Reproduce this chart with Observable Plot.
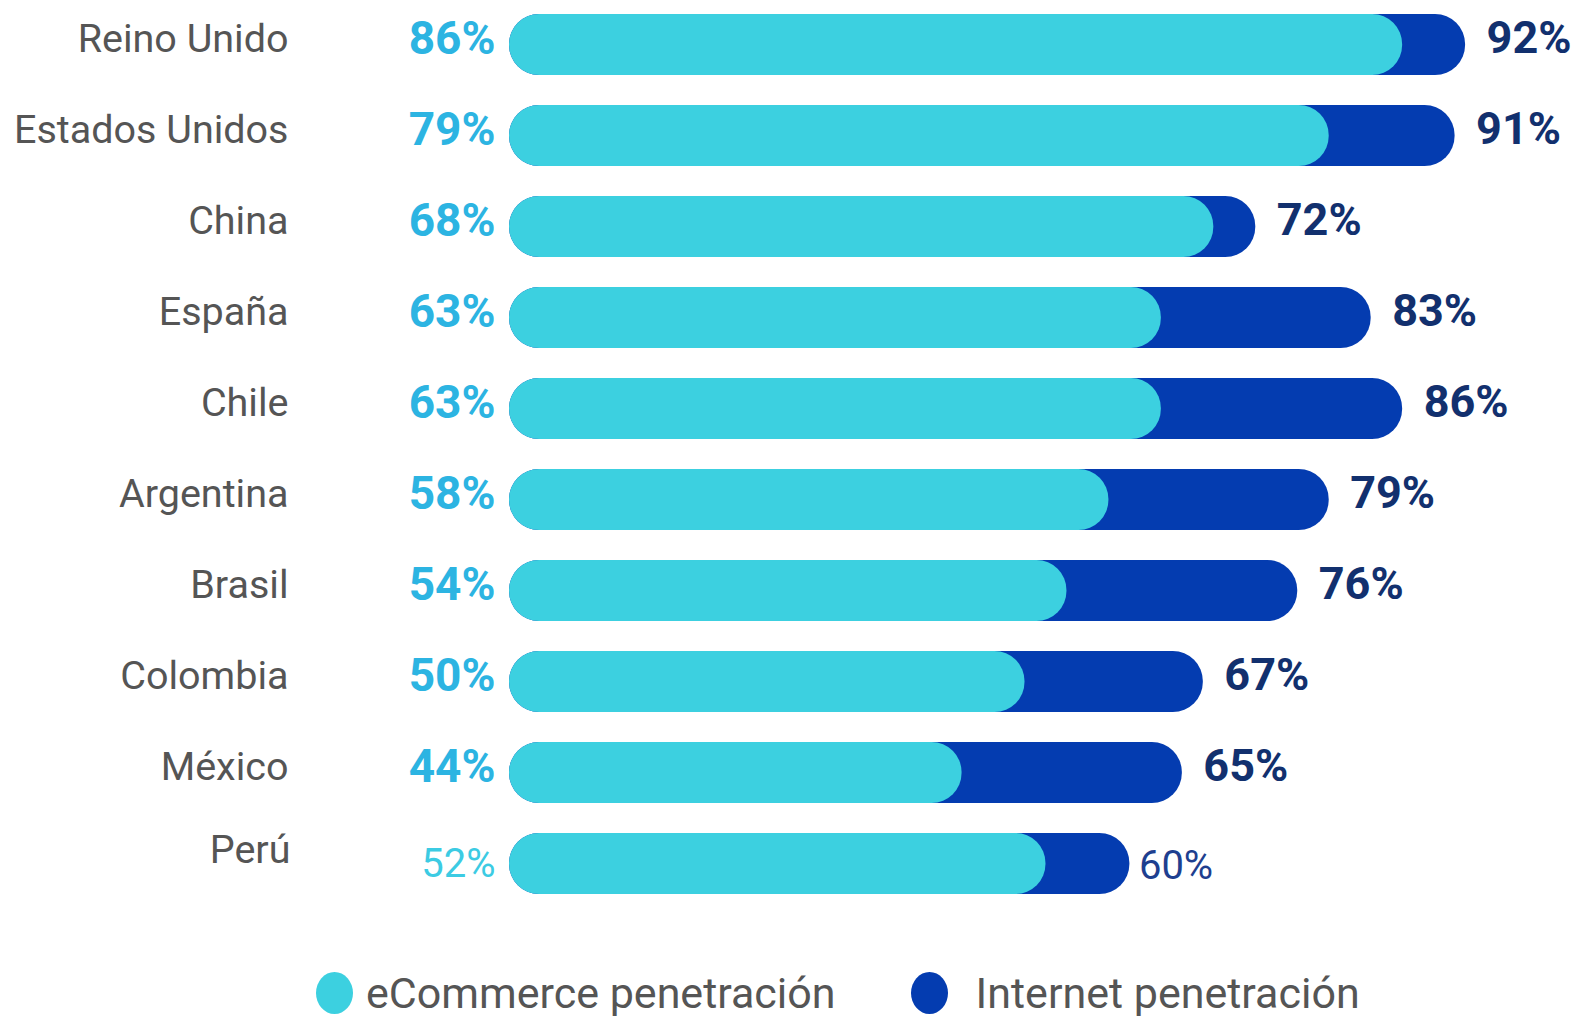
<!DOCTYPE html>
<html>
<head>
<meta charset="utf-8">
<script src="https://cdn.jsdelivr.net/npm/d3@7"></script>
<script src="https://cdn.jsdelivr.net/npm/@observablehq/plot@0.6"></script>
<style>
  html, body { margin: 0; padding: 0; background: #fff; overflow: hidden; }
  #chart svg { display: block; }
  .legend { display: flex; align-items: center; margin-top: 72px; padding-left: 316px; font-family: Roboto, sans-serif; font-size: 43px; line-height: 50px; color: #555; }
  .legend .item { display: flex; align-items: center; }
  .legend .sw { width: 37px; height: 42px; border-radius: 50%; margin-right: 13px; }
</style>
</head>
<body>
<div id="chart"></div>
<div class="legend">
  <div class="item"><span class="sw" style="background:#3CD0E0"></span><span>eCommerce penetración</span></div>
  <div class="item" style="margin-left:75px"><span class="sw" style="background:#043CB0"></span><span style="margin-left:15px">Internet penetración</span></div>
</div>
<script>
const countries = ["Reino Unido","Estados Unidos","China","España","Chile","Argentina","Brasil","Colombia","México","Perú"];
const ecommerce = [86,79,68,63,63,58,54,50,44,52];
const internet  = [92,91,72,83,86,79,76,67,65,60];

const data = countries.map((c, i) => ({country: c, ecom: ecommerce[i], net: internet[i]}));
const isPeru = d => d.country === "Perú";
const notPeru = d => d.country !== "Perú";

const chart = Plot.plot({
  width: 1582,
  height: 896,
  marginTop: 12,
  marginBottom: 0,
  marginLeft: 500,
  marginRight: 33,
  x: {domain: [0, 100], axis: null},
  y: {domain: countries, paddingInner: 0.335, paddingOuter: 0, axis: null},
  style: {fontFamily: "Roboto, sans-serif", background: "transparent"},
  marks: [
    Plot.barX(data, {y: "country", x1: 0, x2: "net", fill: "#043CB0", rx: 30, insetLeft: 9}),
    Plot.barX(data, {y: "country", x1: 0, x2: "ecom", fill: "#3CD0E0", rx: 30, insetLeft: 9}),
    // country labels
    Plot.text(data, {filter: notPeru, y: "country", x: 0, text: "country", textAnchor: "end", dx: -212, dy: -6, fontSize: 39.5, fill: "#555"}),
    Plot.text(data, {filter: isPeru, y: "country", x: 0, text: "country", textAnchor: "end", dx: -210, dy: -14, fontSize: 39.5, fill: "#555"}),
    // eCommerce values (left)
    Plot.text(data, {filter: notPeru, y: "country", x: 0, text: d => d.ecom + "%", textAnchor: "end", dx: -5, dy: -6, fontSize: 46, fontWeight: 700, fill: "#2CB4E2"}),
    Plot.text(data, {filter: isPeru, y: "country", x: 0, text: d => d.ecom + "%", textAnchor: "end", dx: -5, fontSize: 40, fontWeight: 400, fill: "#3CCBE3"}),
    // Internet values (right)
    Plot.text(data, {filter: notPeru, y: "country", x: "net", text: d => d.net + "%", textAnchor: "start", dx: 21, dy: -6, fontSize: 45, fontWeight: 700, fill: "#12306E"}),
    Plot.text(data, {filter: isPeru, y: "country", x: "net", text: d => d.net + "%", textAnchor: "start", dx: 9, dy: 2, fontSize: 40, fontWeight: 400, fill: "#1E3F8F"})
  ]
});
document.getElementById("chart").appendChild(chart);
</script>
</body>
</html>
